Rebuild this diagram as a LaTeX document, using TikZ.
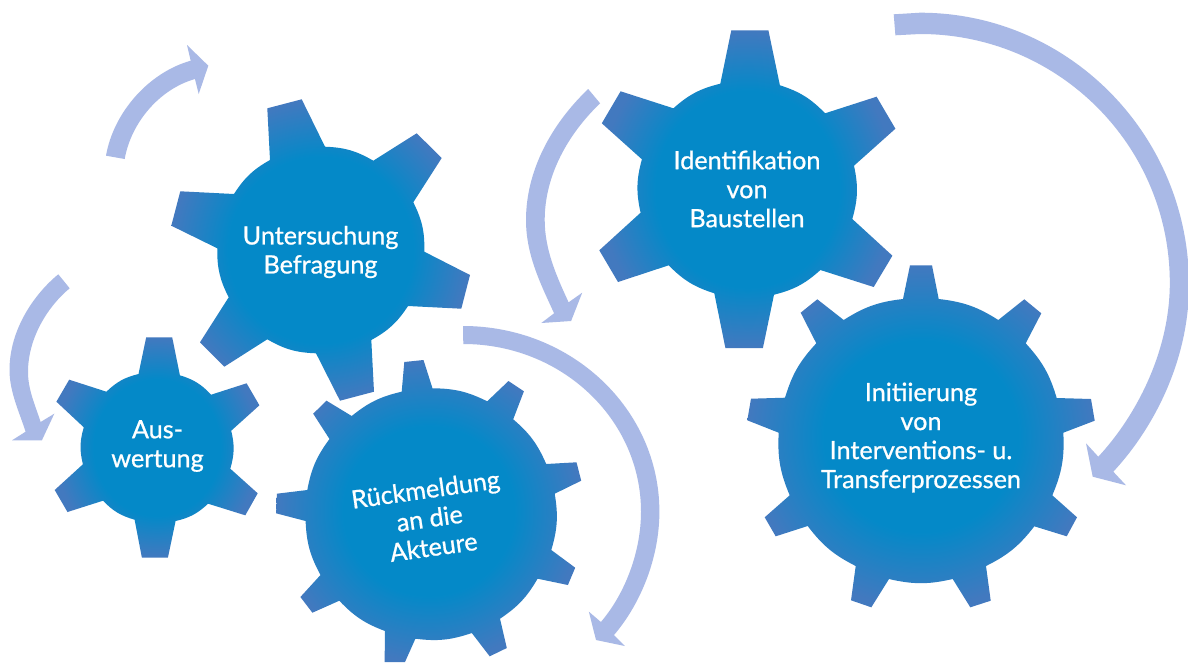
\documentclass[tikz,border=0pt]{standalone}
\usepackage{fontspec}
\setmainfont{Lato}
\newfontfamily\gearfont{Lato}[RawFeature={embolden=0.8}]
\definecolor{gearin}{HTML}{0489C8}
\definecolor{gearout}{HTML}{4279BF}
\definecolor{flow}{HTML}{A9B9E6}
\pgfdeclareradialshading{gearA}{\pgfpointorigin}{color(0bp)=(gearin); color(15.5bp)=(gearin); color(25bp)=(gearout); color(50bp)=(gearout)}
\pgfdeclareradialshading{gearB}{\pgfpointorigin}{color(0bp)=(gearin); color(14bp)=(gearin); color(25bp)=(gearout); color(50bp)=(gearout)}
\tikzset{
  wheelA/.style={shade,shading=gearA,every to/.style={bend left=#1}},
  wheelB/.style={shade,shading=gearB,every to/.style={bend left=#1}},
  flowarrow/.style={fill=flow,draw=none},
  geartext/.style={text=white,align=center,inner sep=0pt,font=\fontsize{25.2}{29}\selectfont\gearfont}
}
\begin{document}
\begin{tikzpicture}[x=1pt,y=-1pt]
\useasboundingbox (0,0) rectangle (1188,662);
\fill[white] (0,0) rectangle (1188,662);
% flow arrows
\fill[flowarrow] (106,155.7) .. controls (113.5,112.6) and (148.5,72.6) .. (190.7,60.7) -- (187,45) -- (208.3,65.7) -- (198.7,94) -- (195,79) .. controls (159.5,89) and (131,122.7) .. (124.7,159) -- cycle;
\fill[flowarrow] (58.3,274.3) .. controls (33.7,294.5) and (9.5,330) .. (9.5,370) .. controls (9.5,392) and (19.6,412.7) .. (25.6,431.7) -- (12,440.3) -- (41.9,440.3) -- (54.3,413.7) -- (40.6,422) .. controls (35.5,405.9) and (28,390) .. (28,372) .. controls (28,337) and (48.9,305.3) .. (69.7,288.3) -- cycle;
\fill[flowarrow] (463,326) .. controls (571.5,326) and (659.4,409) .. (659.4,511.7) .. controls (659.4,557) and (641.3,603) .. (614,635) -- (624.8,646) -- (596,640) -- (588.9,611.7) -- (600.9,622) .. controls (625.6,593) and (641,551) .. (641,511.7) .. controls (641,419) and (561.4,344) .. (463.3,344) -- cycle;
\fill[flowarrow] (588.2,89) .. controls (552,123.5) and (526,170) .. (526,220) .. controls (526,255) and (540.7,284) .. (554.1,313.3) -- (541.3,323) -- (571.1,321) -- (582.2,292.7) -- (568.6,302.3) .. controls (556.8,276.8) and (544.7,250) .. (544.7,220) .. controls (544.7,175) and (568.4,133.7) .. (600.1,103.3) -- cycle;
\fill[flowarrow] (893.7,14.3) -- (920,12.7) .. controls (1068.6,12.7) and (1189,135) .. (1189,285) .. controls (1189,360) and (1154,428) .. (1113.3,471.7) -- (1126,485.3) -- (1092.7,476.7) -- (1086,443.3) -- (1098.3,456.7) .. controls (1135.7,416.5) and (1169.8,352) .. (1169.8,283) .. controls (1169.8,145) and (1058,34) .. (920,34) -- (895.4,35.3) -- cycle;
% Gear: Auswertung
\path[wheelA=15] (146.2,337.3) -- (172.2,337.3) -- (179.9,375.3) to (211.1,394.7) -- (246.6,383.3) -- (259.4,405.3) -- (231.2,430.7) to (230.3,468.7) -- (257.7,493.3) -- (245.3,515.3) -- (208.1,503.7) to (175.6,521) -- (167.9,557.7) -- (141.9,557.7) -- (134.6,519.7) to (103,500.7) -- (67.5,512) -- (54.7,490) -- (82.9,464.3) to (83.8,427.3) -- (56.4,401.7) -- (69.2,379.7) -- (106.4,391.7) to (138.5,374) -- cycle;
% Gear: Untersuchung
\path[wheelA=14] (267.3,108.3) -- (301.7,99.3) -- (325,146.7) to (373.3,160.7) -- (416.7,133.3) -- (441.7,158) -- (413.3,202.3) to (424.3,251.7) -- (470,275) -- (461.3,308.7) -- (408,306) to (371.3,340) -- (374,391.7) -- (340,400.7) -- (316,353.3) to (267.3,339.3) -- (224.3,366.7) -- (200,342.3) -- (228.7,297.3) to (217.3,248.3) -- (171.3,225.7) -- (180.3,191.3) -- (234,194) to (270,160) -- cycle;
% Gear: Rueckmeldung
\path[wheelB=13] (404.3,362) -- (423.5,360) -- (432.5,388.3) to (487.2,401.3) -- (508.5,381) -- (523.9,391.3) -- (513.2,419.3) to (546.2,464) -- (576.5,462.3) -- (581.2,480.7) -- (554.7,493.7) to (551.3,550) -- (575.2,567.7) -- (567.9,585) -- (537.6,578.7) to (500,618.7) -- (506.8,648) -- (489.7,656.3) -- (471.8,633) to (415.4,638.7) -- (405,662) -- (384.6,662) -- (385,631) to (339.3,600.7) -- (312.4,612.7) -- (300.4,597) -- (320.5,575) to (305.6,521) -- (276.1,513.3) -- (276.9,493.7) -- (307.3,490) to (329.5,439) -- (313.2,413.7) -- (326.5,400.7) -- (351.7,416) to (401.7,391.7) -- cycle;
% Gear: Identifikation
\path[wheelA=14] (731.3,30.3) -- (768.4,30.3) -- (779.9,85.3) to (825.1,113.3) -- (876.6,96.7) -- (895.4,128.7) -- (854,165.7) to (852.3,219) -- (892.4,255.7) -- (873.7,287) -- (820.4,270) to (774,294.7) -- (762.9,348) -- (725.4,348) -- (714.3,293.3) to (668.7,265.3) -- (618,282) -- (599.3,250.3) -- (640.6,212.7) to (641.9,159.3) -- (601.8,123.3) -- (620.6,91.3) -- (673.4,108.3) to (720.3,83.7) -- cycle;
% Gear: Initiierung
\path[wheelB=13] (910,265.3) -- (932,265.3) -- (938.7,299) to (998.3,320) -- (1024.3,299.3) -- (1041.3,313.3) -- (1025.7,343.3) to (1056.7,398) -- (1091,399) -- (1094.7,420.7) -- (1063.3,432.7) to (1052.3,495.3) -- (1077,517.3) -- (1066.7,536.3) -- (1034.3,526.3) to (986,566) -- (990.7,600.7) -- (970.3,607.3) -- (952.7,579) to (889,579) -- (871.3,607.3) -- (851,600.3) -- (855.7,566) to (807.7,526) -- (775.7,536.3) -- (764.7,517.3) -- (789.7,495.3) to (778.7,432.7) -- (747.3,420.3) -- (751,398.7) -- (785,397.7) to (816.3,343.3) -- (800.7,312.7) -- (817.3,299.3) -- (843.7,320) to (903,299) -- cycle;
% Labels
\node[geartext] (untersuchung) at (320.5,252) {Untersuchung\\Befragung};
\node[geartext] (auswertung) at (157.5,446) {Aus-\\wertung};
\node[geartext] (rueckmeldung) at (429.5,518) [rotate=8] {Rückmeldung\\an die\\Akteure};
\node[geartext] (identifikation) at (747,189) {Identifikation\\von\\Baustellen};
\node[geartext] (initiierung) at (921,437.5) {Initiierung\\von\\Interventions- u.\\Transferprozessen};
\end{tikzpicture}
\end{document}
